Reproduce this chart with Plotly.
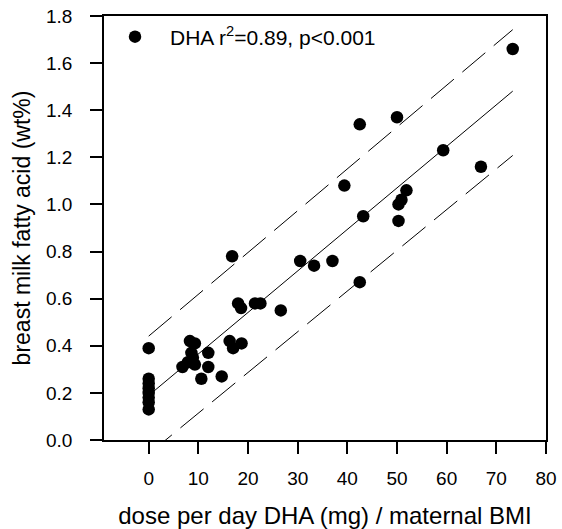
import plotly.graph_objects as go

# Data
dose_x = [73.3, 50.0, 42.5, 59.3, 66.9, 39.4, 51.9, 50.9, 50.3, 43.2, 50.3,
          16.8, 30.5, 33.3, 37.0, 42.5, 18.0, 18.6, 21.4, 22.5, 26.6,
          16.3, 17.0, 18.7, 14.7, 10.6, 12.0, 12.0,
          8.3, 9.3, 8.6, 8.9, 7.9, 9.3, 6.8,
          0, 0, 0, 0, 0, 0, 0, 0]
dha_y = [1.66, 1.37, 1.34, 1.23, 1.16, 1.08, 1.06, 1.02, 1.00, 0.95, 0.93,
         0.78, 0.76, 0.74, 0.76, 0.67, 0.58, 0.56, 0.58, 0.58, 0.55,
         0.42, 0.39, 0.41, 0.27, 0.26, 0.37, 0.31,
         0.42, 0.41, 0.37, 0.35, 0.33, 0.32, 0.31,
         0.39, 0.26, 0.24, 0.22, 0.20, 0.18, 0.16, 0.13]

fit_x = [0, 73.3]
fit_y = [0.189, 1.481]
upper_y = [0.441, 1.742]
lower_y = [-0.059, 1.208]

y_ticks = [0.0, 0.2, 0.4, 0.6, 0.8, 1.0, 1.2, 1.4, 1.6, 1.8]
x_ticks = [0, 10, 20, 30, 40, 50, 60, 70, 80]

FONT = "Liberation Sans, Arial, sans-serif"

fig = go.Figure()
fig.add_trace(go.Scatter(x=fit_x, y=upper_y, mode="lines", showlegend=False,
                         line=dict(color="black", width=1, dash="30px,11px"),
                         hoverinfo="skip"))
fig.add_trace(go.Scatter(x=fit_x, y=lower_y, mode="lines", showlegend=False,
                         line=dict(color="black", width=1, dash="30px,11px"),
                         hoverinfo="skip"))
fig.add_trace(go.Scatter(x=fit_x, y=fit_y, mode="lines", showlegend=False,
                         line=dict(color="black", width=1),
                         hoverinfo="skip"))
fig.add_trace(go.Scatter(x=dose_x, y=dha_y, mode="markers",
                         name="DHA r<sup>2</sup>=0.89, p&lt;0.001",
                         marker=dict(color="black", size=12.5, line=dict(width=0))))

axis_common = dict(showline=True, linecolor="black", linewidth=1.5, mirror=True,
                   ticks="outside", ticklen=12, tickwidth=1.5, tickcolor="black",
                   showgrid=False, zeroline=False,
                   tickfont=dict(family=FONT, size=19, color="black"))

fig.update_xaxes(range=[-9, 80], tickvals=x_ticks, ticklabelstandoff=8,
                 title=dict(text="dose per day DHA (mg) / maternal BMI",
                            font=dict(family=FONT, size=24, color="black"),
                            standoff=20),
                 **axis_common)
fig.update_yaxes(range=[0, 1.8], tickvals=y_ticks, tickformat=".1f",
                 ticklabelstandoff=14,
                 title=dict(text="breast milk fatty acid (wt%)",
                            font=dict(family=FONT, size=23, color="black"),
                            standoff=9),
                 **axis_common)

fig.update_layout(
    width=562, height=529,
    margin=dict(l=104, r=16, t=16, b=89, autoexpand=False),
    plot_bgcolor="white", paper_bgcolor="white",
    font=dict(family=FONT, color="black"),
    legend=dict(x=-0.009, y=0.9987, xanchor="left", yanchor="top",
                bgcolor="rgba(0,0,0,0)", borderwidth=0, itemwidth=60,
                font=dict(family=FONT, size=21, color="black")),
)

fig.write_html("out.html",
               config={"displayModeBar": False},
               post_script="document.body.style.margin='0';"
                           "document.body.style.overflow='hidden';")
